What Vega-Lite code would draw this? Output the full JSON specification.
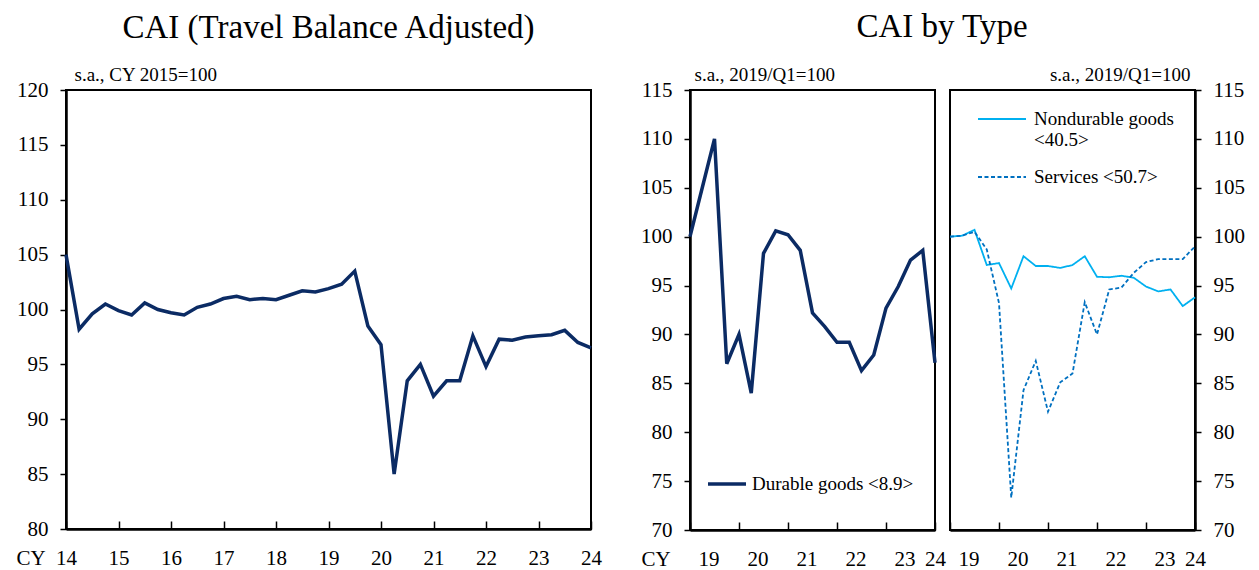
{
  "$schema": "https://vega.github.io/schema/vega-lite/v6.json",
  "background": "white",
  "padding": {"left": 15, "top": 11, "right": 4, "bottom": 0},
  "config": {
    "font": "Liberation Serif",
    "view": {"stroke": "black", "strokeWidth": 2},
    "title": {"font": "Liberation Serif", "fontSize": 33, "fontWeight": "normal", "color": "black", "anchor": "middle", "frame": "group", "offset": 20},
    "axis": {"labelFont": "Liberation Serif", "labelFontSize": 21, "labelColor": "black", "titleFont": "Liberation Serif", "titleFontWeight": "normal", "titleColor": "black", "domainColor": "black", "domainWidth": 2.5, "tickColor": "black", "tickWidth": 1.5, "grid": false, "labelOverlap": false, "labelFlush": false},
    "legend": {"labelFont": "Liberation Serif", "labelFontSize": 19, "labelColor": "black", "symbolType": "stroke", "padding": 0, "labelLimit": 400}
  },
  "datasets": {
    "cai": [
      {"t": 14.00, "v": 105.0}, {"t": 14.25, "v": 98.2}, {"t": 14.50, "v": 99.6}, {"t": 14.75, "v": 100.5},
      {"t": 15.00, "v": 99.9}, {"t": 15.25, "v": 99.5}, {"t": 15.50, "v": 100.6}, {"t": 15.75, "v": 100.0},
      {"t": 16.00, "v": 99.7}, {"t": 16.25, "v": 99.5}, {"t": 16.50, "v": 100.2}, {"t": 16.75, "v": 100.5},
      {"t": 17.00, "v": 101.0}, {"t": 17.25, "v": 101.2}, {"t": 17.50, "v": 100.9}, {"t": 17.75, "v": 101.0},
      {"t": 18.00, "v": 100.9}, {"t": 18.25, "v": 101.3}, {"t": 18.50, "v": 101.7}, {"t": 18.75, "v": 101.6},
      {"t": 19.00, "v": 101.9}, {"t": 19.25, "v": 102.3}, {"t": 19.50, "v": 103.5}, {"t": 19.75, "v": 98.5},
      {"t": 20.00, "v": 96.8}, {"t": 20.25, "v": 85.0}, {"t": 20.50, "v": 93.5}, {"t": 20.75, "v": 95.0},
      {"t": 21.00, "v": 92.1}, {"t": 21.25, "v": 93.5}, {"t": 21.50, "v": 93.5}, {"t": 21.75, "v": 97.6},
      {"t": 22.00, "v": 94.8}, {"t": 22.25, "v": 97.3}, {"t": 22.50, "v": 97.2}, {"t": 22.75, "v": 97.5},
      {"t": 23.00, "v": 97.6}, {"t": 23.25, "v": 97.7}, {"t": 23.50, "v": 98.1}, {"t": 23.75, "v": 97.0},
      {"t": 24.00, "v": 96.5}
    ],
    "durable": [
      {"t": 19.00, "v": 100.0, "series": "Durable goods <8.9>"}, {"t": 19.25, "v": 105.0, "series": "Durable goods <8.9>"},
      {"t": 19.50, "v": 110.0, "series": "Durable goods <8.9>"}, {"t": 19.75, "v": 87.0, "series": "Durable goods <8.9>"},
      {"t": 20.00, "v": 90.0, "series": "Durable goods <8.9>"}, {"t": 20.25, "v": 84.0, "series": "Durable goods <8.9>"},
      {"t": 20.50, "v": 98.3, "series": "Durable goods <8.9>"}, {"t": 20.75, "v": 100.6, "series": "Durable goods <8.9>"},
      {"t": 21.00, "v": 100.2, "series": "Durable goods <8.9>"}, {"t": 21.25, "v": 98.6, "series": "Durable goods <8.9>"},
      {"t": 21.50, "v": 92.2, "series": "Durable goods <8.9>"}, {"t": 21.75, "v": 90.8, "series": "Durable goods <8.9>"},
      {"t": 22.00, "v": 89.2, "series": "Durable goods <8.9>"}, {"t": 22.25, "v": 89.2, "series": "Durable goods <8.9>"},
      {"t": 22.50, "v": 86.3, "series": "Durable goods <8.9>"}, {"t": 22.75, "v": 87.9, "series": "Durable goods <8.9>"},
      {"t": 23.00, "v": 92.7, "series": "Durable goods <8.9>"}, {"t": 23.25, "v": 94.9, "series": "Durable goods <8.9>"},
      {"t": 23.50, "v": 97.6, "series": "Durable goods <8.9>"}, {"t": 23.75, "v": 98.6, "series": "Durable goods <8.9>"},
      {"t": 24.00, "v": 87.1, "series": "Durable goods <8.9>"}
    ],
    "others": [
      {"t": 19.00, "v": 100.0, "series": "Nondurable goods <40.5>"}, {"t": 19.25, "v": 100.1, "series": "Nondurable goods <40.5>"},
      {"t": 19.50, "v": 100.7, "series": "Nondurable goods <40.5>"}, {"t": 19.75, "v": 97.1, "series": "Nondurable goods <40.5>"},
      {"t": 20.00, "v": 97.3, "series": "Nondurable goods <40.5>"}, {"t": 20.25, "v": 94.7, "series": "Nondurable goods <40.5>"},
      {"t": 20.50, "v": 98.0, "series": "Nondurable goods <40.5>"}, {"t": 20.75, "v": 97.0, "series": "Nondurable goods <40.5>"},
      {"t": 21.00, "v": 97.0, "series": "Nondurable goods <40.5>"}, {"t": 21.25, "v": 96.8, "series": "Nondurable goods <40.5>"},
      {"t": 21.50, "v": 97.1, "series": "Nondurable goods <40.5>"}, {"t": 21.75, "v": 98.0, "series": "Nondurable goods <40.5>"},
      {"t": 22.00, "v": 95.9, "series": "Nondurable goods <40.5>"}, {"t": 22.25, "v": 95.85, "series": "Nondurable goods <40.5>"},
      {"t": 22.50, "v": 96.0, "series": "Nondurable goods <40.5>"}, {"t": 22.75, "v": 95.8, "series": "Nondurable goods <40.5>"},
      {"t": 23.00, "v": 94.9, "series": "Nondurable goods <40.5>"}, {"t": 23.25, "v": 94.4, "series": "Nondurable goods <40.5>"},
      {"t": 23.50, "v": 94.6, "series": "Nondurable goods <40.5>"}, {"t": 23.75, "v": 92.9, "series": "Nondurable goods <40.5>"},
      {"t": 24.00, "v": 93.8, "series": "Nondurable goods <40.5>"},
      {"t": 19.00, "v": 100.0, "series": "Services <50.7>"}, {"t": 19.25, "v": 100.1, "series": "Services <50.7>"},
      {"t": 19.50, "v": 100.5, "series": "Services <50.7>"}, {"t": 19.75, "v": 98.7, "series": "Services <50.7>"},
      {"t": 20.00, "v": 93.2, "series": "Services <50.7>"}, {"t": 20.25, "v": 73.3, "series": "Services <50.7>"},
      {"t": 20.50, "v": 84.3, "series": "Services <50.7>"}, {"t": 20.75, "v": 87.3, "series": "Services <50.7>"},
      {"t": 21.00, "v": 82.1, "series": "Services <50.7>"}, {"t": 21.25, "v": 85.1, "series": "Services <50.7>"},
      {"t": 21.50, "v": 86.0, "series": "Services <50.7>"}, {"t": 21.75, "v": 93.3, "series": "Services <50.7>"},
      {"t": 22.00, "v": 90.0, "series": "Services <50.7>"}, {"t": 22.25, "v": 94.6, "series": "Services <50.7>"},
      {"t": 22.50, "v": 94.8, "series": "Services <50.7>"}, {"t": 22.75, "v": 96.3, "series": "Services <50.7>"},
      {"t": 23.00, "v": 97.4, "series": "Services <50.7>"}, {"t": 23.25, "v": 97.7, "series": "Services <50.7>"},
      {"t": 23.50, "v": 97.7, "series": "Services <50.7>"}, {"t": 23.75, "v": 97.7, "series": "Services <50.7>"},
      {"t": 24.00, "v": 99.0, "series": "Services <50.7>"}
    ]
  },
  "spacing": 36,
  "resolve": {"scale": {"x": "independent", "y": "independent", "color": "independent", "strokeDash": "independent"}, "legend": {"color": "independent", "strokeDash": "independent"}},
  "hconcat": [
    {
      "title": {"text": "CAI (Travel Balance Adjusted)"},
      "width": 525,
      "height": 439,
      "data": {"name": "cai"},
      "mark": {"type": "line", "color": "#0B2B64", "strokeWidth": 3.5},
      "encoding": {
        "x": {"field": "t", "type": "quantitative",
          "scale": {"domain": [14, 24], "nice": false, "zero": false},
          "axis": {"values": [14, 15, 16, 17, 18, 19, 20, 21, 22, 23, 24], "labelExpr": "format(datum.value, 'd')", "tickSize": -8, "labelPadding": 43, "labelBaseline": "alphabetic",
            "title": "CY", "titleFontSize": 21, "titleX": -50, "titleY": 35, "titleAlign": "left", "titleBaseline": "alphabetic", "titleAnchor": "start"}},
        "y": {"field": "v", "type": "quantitative",
          "scale": {"domain": [80, 120], "nice": false, "zero": false},
          "axis": {"values": [80, 85, 90, 95, 100, 105, 110, 115, 120], "tickSize": 6, "labelPadding": 12,
            "title": "s.a., CY 2015=100", "titleFontSize": 19, "titleAngle": 0, "titleX": 8, "titleY": -10, "titleAlign": "left", "titleBaseline": "alphabetic", "titleAnchor": "start"}}
      }
    },
    {
      "title": {"text": "CAI by Type", "anchor": "middle", "dx": 252},
      "spacing": -2,
      "resolve": {"scale": {"x": "independent", "y": "independent", "color": "independent", "strokeDash": "independent"}, "legend": {"color": "independent", "strokeDash": "independent"}},
      "hconcat": [
        {
          "width": 245,
          "height": 440,
          "data": {"name": "durable"},
          "mark": {"type": "line", "strokeWidth": 3.5},
          "encoding": {
            "x": {"field": "t", "type": "quantitative",
              "scale": {"domain": [19, 24], "nice": false, "zero": false},
              "axis": {"values": [19, 19.375, 20, 20.375, 21, 21.375, 22, 22.375, 23, 23.375, 24],
                "labelExpr": "(datum.value % 1 == 0 && datum.value < 24) ? '' : format(floor(datum.value), 'd')",
                "tickOpacity": {"condition": {"test": "datum.value % 1 == 0", "value": 1}, "value": 0},
                "tickSize": -8, "labelPadding": 43, "labelBaseline": "alphabetic",
                "title": "CY", "titleFontSize": 21, "titleX": -49, "titleY": 35, "titleAlign": "left", "titleBaseline": "alphabetic", "titleAnchor": "start"}},
            "y": {"field": "v", "type": "quantitative",
              "scale": {"domain": [70, 115], "nice": false, "zero": false},
              "axis": {"values": [70, 75, 80, 85, 90, 95, 100, 105, 110, 115], "tickSize": 6, "labelPadding": 12,
                "title": "s.a., 2019/Q1=100", "titleFontSize": 19, "titleAngle": 0, "titleX": 4, "titleY": -10, "titleAlign": "left", "titleBaseline": "alphabetic", "titleAnchor": "start"}},
            "color": {"field": "series", "type": "nominal",
              "scale": {"domain": ["Durable goods <8.9>"], "range": ["#0B2B64"]},
              "legend": {"title": null, "orient": "none", "legendX": 16, "legendY": 373, "symbolSize": 1444, "symbolStrokeWidth": 3.5, "labelOffset": 4}}
          }
        },
        {
          "width": 245,
          "height": 440,
          "data": {"name": "others"},
          "mark": {"type": "line", "strokeWidth": 1.8},
          "encoding": {
            "x": {"field": "t", "type": "quantitative",
              "scale": {"domain": [19, 24], "nice": false, "zero": false},
              "axis": {"values": [19, 19.375, 20, 20.375, 21, 21.375, 22, 22.375, 23, 23.375, 24],
                "labelExpr": "(datum.value % 1 == 0 && datum.value < 24) ? '' : format(floor(datum.value), 'd')",
                "tickOpacity": {"condition": {"test": "datum.value % 1 == 0", "value": 1}, "value": 0},
                "tickSize": -8, "labelPadding": 43, "labelBaseline": "alphabetic", "title": null}},
            "y": {"field": "v", "type": "quantitative",
              "scale": {"domain": [70, 115], "nice": false, "zero": false},
              "axis": {"orient": "right", "values": [70, 75, 80, 85, 90, 95, 100, 105, 110, 115], "tickSize": 6, "labelPadding": 12,
                "title": "s.a., 2019/Q1=100", "titleFontSize": 19, "titleAngle": 0, "titleX": -5, "titleY": -10, "titleAlign": "right", "titleBaseline": "alphabetic", "titleAnchor": "end"}},
            "color": {"field": "series", "type": "nominal",
              "scale": {"domain": ["Nondurable goods <40.5>", "Services <50.7>"], "range": ["#00B0F0", "#0070C0"]},
              "legend": {"title": null, "orient": "none", "legendX": 27, "legendY": 4, "symbolSize": 2304, "symbolStrokeWidth": 1.8, "labelOffset": 7, "rowPadding": 2,
                "labelExpr": "datum.label == 'Nondurable goods <40.5>' ? ['Nondurable goods', '<40.5>'] : datum.label"}},
            "strokeDash": {"field": "series", "type": "nominal",
              "scale": {"domain": ["Nondurable goods <40.5>", "Services <50.7>"], "range": [[1, 0], [4, 2.5]]},
              "legend": {"title": null, "orient": "none", "legendX": 27, "legendY": 4, "symbolSize": 2304, "symbolStrokeWidth": 1.8, "labelOffset": 7, "rowPadding": 2,
                "labelExpr": "datum.label == 'Nondurable goods <40.5>' ? ['Nondurable goods', '<40.5>'] : datum.label"}}
          }
        }
      ]
    }
  ]
}
